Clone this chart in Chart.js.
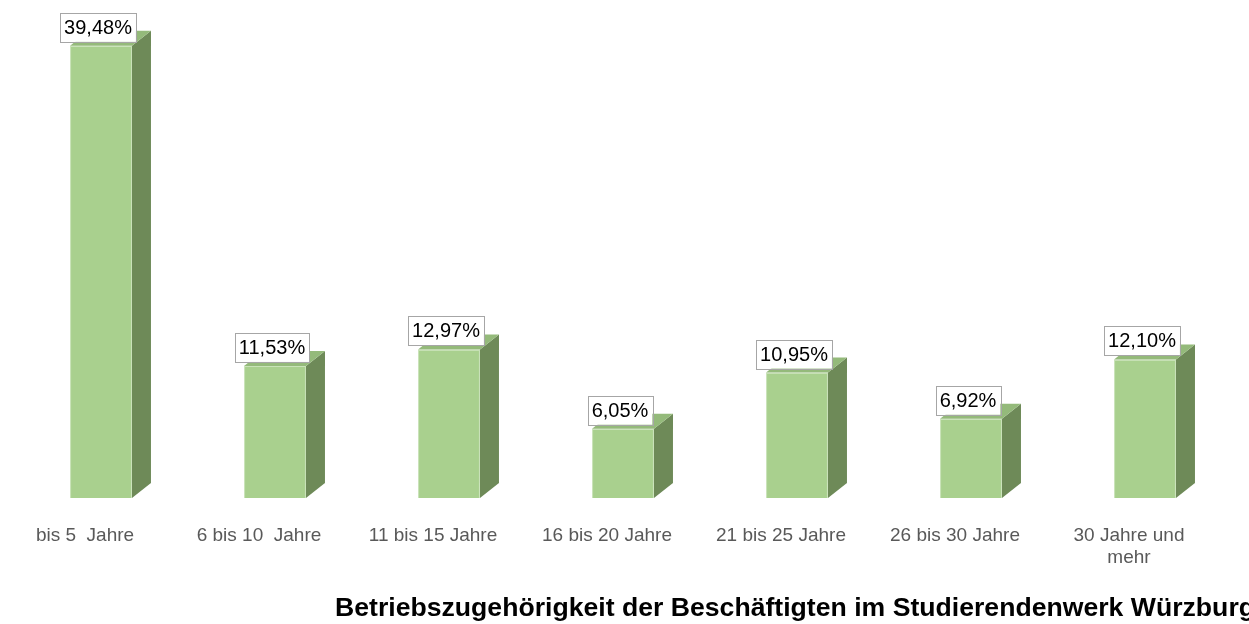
<!DOCTYPE html>
<html>
<head>
<meta charset="utf-8">
<script src="https://cdn.jsdelivr.net/npm/chart.js@4"></script>
<style>
  html, body { margin: 0; padding: 0; background: #ffffff; }
  #wrap { width: 1249px; height: 624px; }
</style>
</head>
<body>
<div id="wrap"><canvas id="chart" width="1249" height="624"></canvas></div>
<script>
// Daten
const categories = [
    'bis 5  Jahre',
    '6 bis 10  Jahre',
    '11 bis 15 Jahre',
    '16 bis 20 Jahre',
    '21 bis 25 Jahre',
    '26 bis 30 Jahre',
    ['30 Jahre und', 'mehr']
];
const shares = [39.48, 11.53, 12.97, 6.05, 10.95, 6.92, 12.10];
const chartTitle = 'Betriebszugehörigkeit der Beschäftigten im Studierendenwerk Würzburg';

// Farben
const frontColor = '#a9d08e';
const edgeColor = '#c9e3b8';
const sideColor = '#6e8a58';
const topColor = '#94ba7a';

// 3D-Effekt: Seite und Deckel der Säulen
const depthPlugin = {
    id: 'depth',
    afterDatasetsDraw(chart) {
        const ctx = chart.ctx;
        const dx = 19, dy = 15;
        chart.getDatasetMeta(0).data.forEach(bar => {
            const left = bar.x - bar.width / 2;
            const right = bar.x + bar.width / 2;
            const top = bar.y;
            const bottom = bar.base;
            ctx.save();
            // Seite
            ctx.fillStyle = sideColor;
            ctx.beginPath();
            ctx.moveTo(right, top);
            ctx.lineTo(right + dx, top - dy);
            ctx.lineTo(right + dx, bottom - dy);
            ctx.lineTo(right, bottom);
            ctx.closePath();
            ctx.fill();
            // Deckel
            ctx.fillStyle = topColor;
            ctx.beginPath();
            ctx.moveTo(left, top);
            ctx.lineTo(left + dx, top - dy);
            ctx.lineTo(right + dx, top - dy);
            ctx.lineTo(right, top);
            ctx.closePath();
            ctx.fill();
            ctx.restore();
        });
    }
};

// Wertebeschriftung mit Kasten
const boxLabelPlugin = {
    id: 'boxLabels',
    afterDraw(chart) {
        const ctx = chart.ctx;
        ctx.save();
        ctx.font = '20px "Liberation Sans", Arial, sans-serif';
        ctx.textAlign = 'center';
        ctx.textBaseline = 'middle';
        chart.getDatasetMeta(0).data.forEach((bar, i) => {
            const text = shares[i].toFixed(2).replace('.', ',') + '%';
            const w = ctx.measureText(text).width + 8;
            const h = 29;
            const cx = bar.x - 3;
            const bottom = bar.y - 4;
            ctx.fillStyle = '#ffffff';
            ctx.fillRect(cx - w / 2, bottom - h, w, h);
            ctx.strokeStyle = '#a6a6a6';
            ctx.lineWidth = 1;
            ctx.strokeRect(Math.round(cx - w / 2) + 0.5, Math.round(bottom - h) + 0.5, Math.round(w), h);
            ctx.fillStyle = '#000000';
            ctx.fillText(text, cx, bottom - h / 2 + 1);
        });
        ctx.restore();
    }
};

// Titel unten (im Original leicht breit gezogen und rechts abgeschnitten)
const bottomTitlePlugin = {
    id: 'bottomTitle',
    afterDraw(chart) {
        const ctx = chart.ctx;
        const x0 = 335, targetWidth = 920;
        ctx.save();
        ctx.font = 'bold 25px "Liberation Sans", Arial, sans-serif';
        ctx.fillStyle = '#000000';
        ctx.textAlign = 'left';
        ctx.textBaseline = 'middle';
        const sx = targetWidth / ctx.measureText(chartTitle).width;
        ctx.translate(x0, 609);
        ctx.scale(sx, 1);
        ctx.fillText(chartTitle, 0, 0);
        ctx.restore();
    }
};

document.addEventListener('DOMContentLoaded', function () {
    const canvas = document.getElementById('chart');

    new Chart(canvas, {
        type: 'bar',
        data: {
            labels: categories,
            datasets: [{
                data: shares,
                backgroundColor: frontColor,
                borderColor: edgeColor,
                borderWidth: 1,
                categoryPercentage: 1,
                barPercentage: 0.356
            }]
        },
        options: {
            responsive: false,
            animation: false,
            layout: {
                padding: { left: 14, right: 17, top: 17, bottom: 0 }
            },
            plugins: {
                legend: { display: false },
                title: { display: false },
                tooltip: { enabled: false }
            },
            scales: {
                y: {
                    display: false,
                    min: 0,
                    max: 42
                },
                x: {
                    grid: { display: false, drawTicks: false },
                    border: { display: false },
                    ticks: {
                        color: '#595959',
                        font: { family: '"Liberation Sans", Arial, sans-serif', size: 19, lineHeight: 1.2 },
                        padding: 26,
                        labelOffset: -16,
                        maxRotation: 0,
                        autoSkip: false
                    },
                    afterFit(scale) {
                        scale.height = 126;
                    }
                }
            }
        },
        plugins: [depthPlugin, boxLabelPlugin, bottomTitlePlugin]
    });
});
</script>
</body>
</html>
